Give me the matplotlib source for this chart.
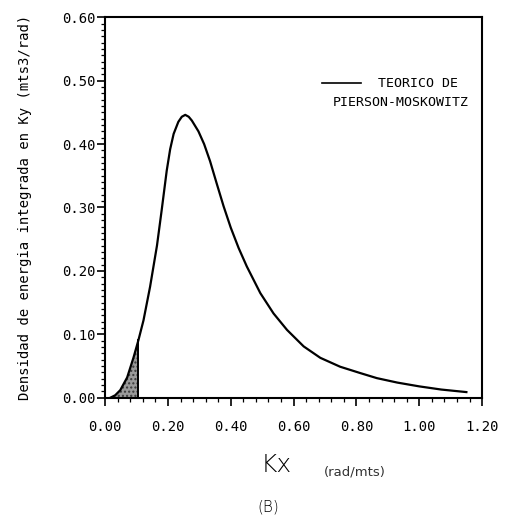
import numpy as np
import matplotlib
matplotlib.use("Agg")
import matplotlib.pyplot as plt
from matplotlib.ticker import MultipleLocator, FormatStrFormatter

# Espectro teorico de Pierson-Moskowitz
kx = [0.016, 0.032, 0.048, 0.070, 0.090, 0.106, 0.122, 0.143, 0.165, 0.180,
      0.196, 0.207, 0.218, 0.233, 0.244, 0.255, 0.266, 0.276, 0.297, 0.315,
      0.334, 0.355, 0.377, 0.400, 0.425, 0.451, 0.494, 0.536, 0.579, 0.632,
      0.685, 0.748, 0.812, 0.865, 0.930, 1.000, 1.070, 1.150]
densidad = [0.000, 0.004, 0.012, 0.032, 0.063, 0.091, 0.122, 0.175, 0.240, 0.296,
            0.358, 0.392, 0.416, 0.435, 0.443, 0.446, 0.443, 0.437, 0.420, 0.400,
            0.373, 0.338, 0.302, 0.268, 0.236, 0.207, 0.165, 0.133, 0.107, 0.081,
            0.063, 0.049, 0.039, 0.031, 0.024, 0.018, 0.013, 0.009]
k_sombra = 0.106

x_ticks = [0.0, 0.2, 0.4, 0.6, 0.8, 1.0, 1.2]
y_ticks = [0.0, 0.1, 0.2, 0.3, 0.4, 0.5, 0.6]

mono = "DejaVu Sans Mono"

fig = plt.figure(figsize=(5.08, 5.2), dpi=100)
ax = fig.add_axes([0.207, 0.235, 0.742, 0.732])

ax.plot(kx, densidad, color="black", lw=1.6, solid_joinstyle="round")

# zona sombreada bajo la curva
k = np.array(kx)
d = np.array(densidad)
m = k <= k_sombra + 1e-9
ax.fill_between(k[m], 0, d[m], facecolor="#9a9a9a", edgecolor="#3a3a3a",
                hatch="....", lw=0)
ax.plot([k_sombra, k_sombra], [0, d[m][-1]], color="black", lw=1.4)

ax.set_xlim(0, 1.2)
ax.set_ylim(0, 0.6)
ax.set_xticks(x_ticks)
ax.set_yticks(y_ticks)
ax.xaxis.set_minor_locator(MultipleLocator(0.04))
ax.yaxis.set_minor_locator(MultipleLocator(0.01))
ax.xaxis.set_major_formatter(FormatStrFormatter("%.2f"))
ax.yaxis.set_major_formatter(FormatStrFormatter("%.2f"))
ax.tick_params(which="major", direction="out", length=6, width=1.2,
               labelsize=10)
ax.tick_params(which="minor", direction="out", length=3, width=0.9)
ax.tick_params(axis="x", which="major", pad=10)
ax.tick_params(axis="y", which="major", pad=1)
for lab in ax.get_xticklabels() + ax.get_yticklabels():
    lab.set_family(mono)
for sp in ax.spines.values():
    sp.set_linewidth(1.5)

ax.set_ylabel("Densidad de energia integrada en Ky (mts3/rad)",
              family=mono, fontsize=10)
ax.yaxis.set_label_coords(-0.195, 0.5)

# leyenda
ax.plot([0.691, 0.815], [0.497, 0.497], color="black", lw=1.2)
ax.text(0.869, 0.495, "TEORICO DE", family=mono, fontsize=9.5,
        va="center", ha="left")
ax.text(1.156, 0.466, "PIERSON-MOSKOWITZ", family=mono, fontsize=9.5,
        va="center", ha="right")

fig.text(0.543, 0.106, "Kx", fontsize=18, ha="center", va="center",
         fontweight="light")
fig.text(0.699, 0.092, "(rad/mts)", fontsize=9.5, ha="center", va="center",
         color="#333333")
fig.text(0.528, 0.01, "(B)", fontsize=11, ha="center", va="bottom",
         fontweight="light")

fig.savefig("out.png", dpi=100, facecolor="white")
